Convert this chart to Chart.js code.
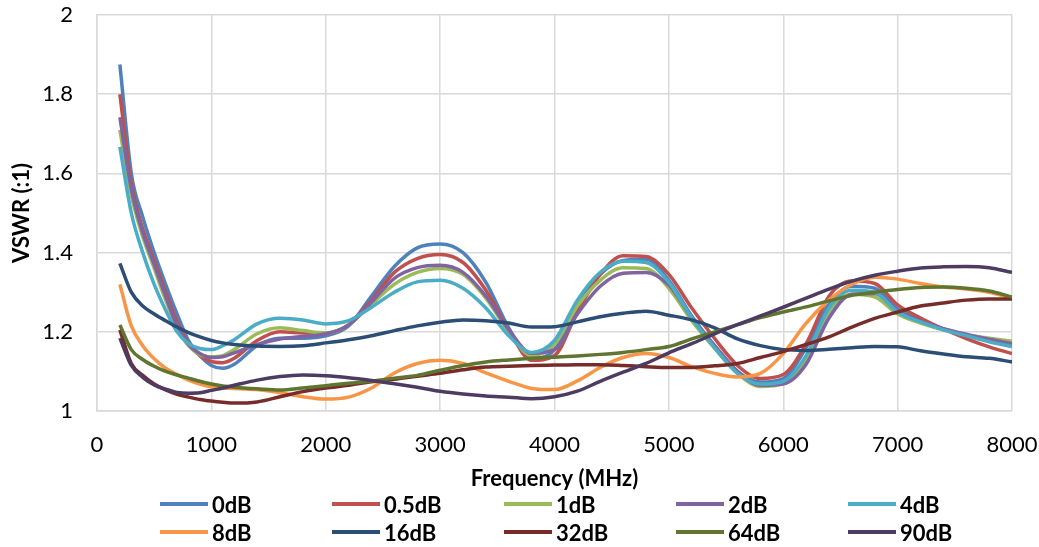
<!DOCTYPE html>
<html>
<head>
<meta charset="utf-8">
<title>VSWR vs Frequency</title>
<script src="https://cdn.jsdelivr.net/npm/chart.js@4.4.1/dist/chart.umd.min.js"></script>
<style>
  html, body { margin: 0; padding: 0; background: #fff; }
  .wrap { position: relative; width: 1039px; height: 547px; overflow: hidden; }
  #vswrChart { position: absolute; left: 0; top: 0; }
  .legend { position: absolute; left: 0; top: 0; width: 1039px; height: 547px; pointer-events: none;
            font-family: Lato, "Open Sans", sans-serif; font-weight: 700; font-size: 22px; color: #000; }
  .legend-item { position: absolute; display: flex; align-items: center; height: 26px; }
  .legend-line { width: 48px; height: 4px; margin-right: 4px; }
</style>
</head>
<body>
<div class="wrap">
  <canvas id="vswrChart" width="1039" height="547"></canvas>
  <div class="legend" id="legend"></div>
</div>
<script>
/* VSWR (:1) vs fréquence, une courbe par atténuation */

const FREQ = [200, 300, 400, 500, 600, 700, 800, 900, 1000, 1100, 1200,
  1400, 1600, 1800, 2000, 2200, 2400, 2600, 2800, 3000, 3200, 3400, 3600, 3800, 4000,
  4200, 4400, 4600, 4800, 5000, 5200, 5400, 5600, 5800, 6000, 6200, 6400, 6600, 6800,
  7000, 7200, 7400, 7600, 7800, 8000];

const SERIES = ["0dB", "0.5dB", "1dB", "2dB", "4dB", "8dB", "16dB", "32dB", "64dB", "90dB"];
const COLORS = ["#4F81BD", "#C0504D", "#9BBB59", "#8064A2", "#4BACC6",
  "#F79646", "#2C4D75", "#772C2A", "#5F7530", "#4D3B62"];

const DB_0 = [1.875, 1.60, 1.49, 1.40, 1.32, 1.245, 1.178, 1.14, 1.115, 1.108, 1.118,
  1.165, 1.184, 1.184, 1.19, 1.215, 1.29, 1.365, 1.412, 1.422, 1.40, 1.325, 1.21, 1.133, 1.155,
  1.265, 1.345, 1.38, 1.383, 1.33, 1.24, 1.165, 1.10, 1.073, 1.082, 1.16, 1.27, 1.315, 1.31,
  1.258, 1.228, 1.207, 1.19, 1.178, 1.165];
const DB_05 = [1.80, 1.575, 1.46, 1.38, 1.30, 1.225, 1.17, 1.14, 1.125, 1.122, 1.133,
  1.178, 1.20, 1.197, 1.196, 1.218, 1.28, 1.35, 1.385, 1.395, 1.375, 1.305, 1.205, 1.128, 1.14,
  1.25, 1.345, 1.392, 1.39, 1.345, 1.26, 1.183, 1.115, 1.082, 1.092, 1.17, 1.29, 1.328, 1.322,
  1.268, 1.235, 1.207, 1.183, 1.162, 1.145];
const DB_1 = [1.71, 1.545, 1.44, 1.36, 1.28, 1.21, 1.165, 1.142, 1.137, 1.14, 1.155,
  1.195, 1.21, 1.203, 1.197, 1.217, 1.27, 1.32, 1.35, 1.36, 1.345, 1.285, 1.20, 1.14, 1.168,
  1.265, 1.33, 1.362, 1.36, 1.31, 1.228, 1.158, 1.095, 1.062, 1.07, 1.13, 1.25, 1.295, 1.288,
  1.245, 1.222, 1.205, 1.192, 1.184, 1.176];
const DB_2 = [1.742, 1.56, 1.45, 1.37, 1.29, 1.215, 1.168, 1.145, 1.135, 1.137, 1.147,
  1.168, 1.182, 1.188, 1.195, 1.217, 1.275, 1.335, 1.362, 1.368, 1.35, 1.29, 1.205, 1.146, 1.155,
  1.245, 1.315, 1.348, 1.35, 1.318, 1.235, 1.165, 1.10, 1.065, 1.068, 1.118, 1.235, 1.295, 1.297,
  1.252, 1.227, 1.208, 1.194, 1.181, 1.17];
const DB_4 = [1.667, 1.50, 1.40, 1.32, 1.255, 1.20, 1.17, 1.158, 1.155, 1.165, 1.18,
  1.22, 1.234, 1.23, 1.22, 1.228, 1.262, 1.30, 1.326, 1.33, 1.31, 1.26, 1.19, 1.148, 1.178,
  1.28, 1.35, 1.378, 1.375, 1.325, 1.235, 1.16, 1.095, 1.068, 1.075, 1.14, 1.26, 1.305, 1.30,
  1.25, 1.225, 1.205, 1.19, 1.175, 1.163];
const DB_8 = [1.32, 1.215, 1.165, 1.132, 1.108, 1.092, 1.078, 1.068, 1.061, 1.058, 1.057,
  1.054, 1.046, 1.036, 1.03, 1.035, 1.058, 1.096, 1.12, 1.128, 1.12, 1.096, 1.075, 1.057, 1.054,
  1.076, 1.11, 1.135, 1.145, 1.135, 1.112, 1.095, 1.086, 1.095, 1.145, 1.222, 1.28, 1.32, 1.338,
  1.333, 1.322, 1.313, 1.308, 1.30, 1.285];
const DB_16 = [1.373, 1.30, 1.265, 1.245, 1.228, 1.212, 1.198, 1.187, 1.178, 1.172, 1.168,
  1.164, 1.163, 1.165, 1.172, 1.18, 1.19, 1.203, 1.215, 1.224, 1.23, 1.228, 1.222, 1.212, 1.213,
  1.225, 1.238, 1.247, 1.252, 1.242, 1.23, 1.21, 1.182, 1.165, 1.155, 1.153, 1.156, 1.16, 1.163,
  1.162, 1.152, 1.144, 1.137, 1.133, 1.124];
const DB_32 = [1.205, 1.12, 1.09, 1.068, 1.053, 1.042, 1.035, 1.029, 1.025, 1.022, 1.02,
  1.023, 1.036, 1.049, 1.058, 1.065, 1.074, 1.08, 1.088, 1.095, 1.104, 1.111, 1.113, 1.115, 1.116,
  1.117, 1.117, 1.115, 1.112, 1.11, 1.11, 1.114, 1.12, 1.135, 1.15, 1.168, 1.187, 1.212, 1.234,
  1.25, 1.265, 1.273, 1.28, 1.283, 1.283];
const DB_64 = [1.217, 1.155, 1.13, 1.113, 1.10, 1.091, 1.083, 1.075, 1.068, 1.063, 1.06,
  1.056, 1.053, 1.058, 1.064, 1.07, 1.075, 1.083, 1.09, 1.103, 1.115, 1.124, 1.129, 1.133, 1.136,
  1.139, 1.143, 1.148, 1.155, 1.163, 1.182, 1.20, 1.218, 1.236, 1.25, 1.263, 1.278, 1.292, 1.30,
  1.307, 1.312, 1.313, 1.31, 1.303, 1.288];
const DB_90 = [1.184, 1.115, 1.085, 1.066, 1.055, 1.047, 1.045, 1.046, 1.052, 1.058, 1.065,
  1.078, 1.087, 1.091, 1.089, 1.084, 1.077, 1.069, 1.06, 1.05, 1.043, 1.038, 1.035, 1.031, 1.036,
  1.05, 1.075, 1.098, 1.12, 1.147, 1.17, 1.195, 1.218, 1.24, 1.262, 1.285, 1.308, 1.328, 1.343,
  1.353, 1.361, 1.364, 1.365, 1.362, 1.35];

const VALUES = [DB_0, DB_05, DB_1, DB_2, DB_4, DB_8, DB_16, DB_32, DB_64, DB_90];

const FONT = "Lato, 'Open Sans', sans-serif";
const gridColor = "#d9d9d9";

const datasets = SERIES.map((name, i) => ({
  label: name,
  data: FREQ.map((f, k) => ({ x: f, y: VALUES[i][k] })),
  borderColor: COLORS[i],
  backgroundColor: COLORS[i],
  borderWidth: 3.5,
  pointRadius: 0,
  cubicInterpolationMode: "monotone",
  order: SERIES.length - i, // comme Excel : la dernière série au-dessus
}));

const chart = new Chart(document.getElementById("vswrChart"), {
  type: "line",
  data: { datasets },
  options: {
    responsive: false,
    animation: false,
    layout: { padding: { left: 0, top: 15, right: 27, bottom: 55 } },
    plugins: { legend: { display: false }, tooltip: { enabled: false } },
    scales: {
      x: {
        type: "linear", min: 0, max: 8000,
        grid: { color: gridColor, lineWidth: 1.5, drawTicks: false },
        border: { color: gridColor, width: 1.5 },
        ticks: { stepSize: 1000, padding: 21, color: "#000", font: { family: FONT, size: 22 }, callback: (v) => String(v) },
        title: { display: true, text: "Frequency (MHz)", color: "#000", padding: { top: 0, bottom: 0 },
                 font: { family: FONT, size: 22, weight: "bold" } },
        // taille fixe pour caler la zone de tracé comme l'original
        afterFit: (s) => { s.height = 81; s.paddingLeft = 0; s.paddingRight = 0; },
      },
      y: {
        min: 1, max: 2,
        grid: { color: gridColor, lineWidth: 1.5, drawTicks: false },
        border: { color: gridColor, width: 1.5 },
        ticks: { stepSize: 0.2, padding: 24, color: "#000", font: { family: FONT, size: 22 },
                 callback: (v) => String(+v.toFixed(1)) },
        title: { display: true, text: "VSWR (:1)", color: "#000", padding: { top: 9, bottom: 0 },
                 font: { family: FONT, size: 22, weight: "bold" } },
        afterFit: (s) => { s.width = 97; s.paddingTop = 0; s.paddingBottom = 0; },
      },
    },
  },
});

/* légende HTML : grille 5 colonnes x 2 lignes comme l'original */
function buildLegend() {
  const box = document.getElementById("legend");
  const colX = [160, 332, 504, 676, 848];
  const rowY = [504, 532];
  chart.data.datasets.forEach((ds, i) => {
    const item = document.createElement("div");
    item.className = "legend-item";
    item.style.left = colX[i % 5] + "px";
    item.style.top = (rowY[Math.floor(i / 5)] - 13) + "px";
    const line = document.createElement("span");
    line.className = "legend-line";
    line.style.background = ds.borderColor;
    const txt = document.createElement("span");
    txt.textContent = ds.label;
    item.append(line, txt);
    box.appendChild(item);
  });
}
buildLegend();
</script>
</body>
</html>
